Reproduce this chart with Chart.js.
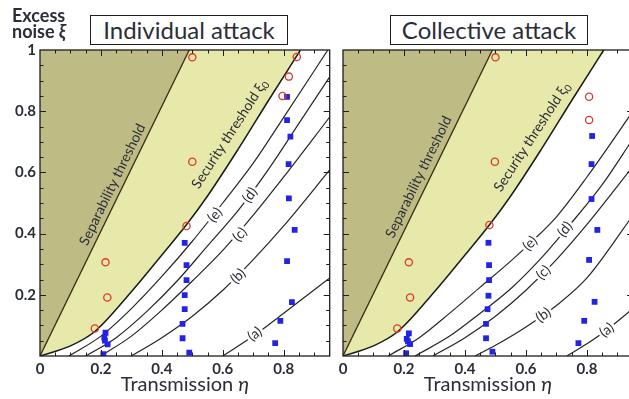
<!DOCTYPE html>
<html>
<head>
<meta charset="utf-8">
<script src="https://cdn.jsdelivr.net/npm/chart.js@4.4.0/dist/chart.umd.min.js"></script>
<style>
html, body { margin: 0; padding: 0; background: #fff; }
body { width: 629px; height: 399px; overflow: hidden; position: relative; font-family: Lato, sans-serif; color: #2b2e38; }
canvas { position: absolute; top: 0; }
#cL { left: 0; }
#cR { left: 333px; }
.box { position: absolute; top: 15px; width: 198px; height: 30px; box-sizing: border-box; border: 1.3px solid #1e1e1e; font-size: 24px; line-height: 27px; text-align: center; background: #fff; }
.ylab { position: absolute; left: 12px; top: 7px; font-size: 18px; font-weight: 700; line-height: 16px; }
.xt { position: absolute; top: 371px; width: 290px; font-size: 20px; text-align: center; }
</style>
</head>
<body>
<canvas id="cL" width="335" height="399"></canvas>
<canvas id="cR" width="307" height="399"></canvas>
<div class="box" style="left:90px">Individual attack</div>
<div class="box" style="left:390px">Collective attack</div>
<div class="ylab">Excess<br>noise <i>ξ</i></div>
<div class="xt" style="left:40px">Transmission <i>η</i></div>
<div class="xt" style="left:343px">Transmission <i>η</i></div>
<script>
// ticks de los ejes
const xTicks = [0, 0.2, 0.4, 0.6, 0.8];
const yTicks = [0.2, 0.4, 0.6, 0.8, 1];

// umbral de separabilidad y umbral de seguridad (iguales en los dos paneles)
const sepEta = [0, 0.49];
const sepXi = [0, 1];
const secEta = [0, 0.1, 0.18, 0.3, 0.4, 0.48, 0.55, 0.65, 0.75, 0.855];
const secXi = [0, 0.033, 0.08, 0.21, 0.33, 0.428, 0.523, 0.675, 0.835, 1];

// curvas (a)-(e), ataque individual
const indAEta = [0.6, 0.7, 0.8, 0.951];
const indAXi = [0, 0.065, 0.14, 0.255];
const indBEta = [0.3, 0.4, 0.5, 0.6, 0.7, 0.8, 0.951];
const indBXi = [0, 0.06, 0.13, 0.215, 0.315, 0.425, 0.608];
const indCEta = [0.2, 0.3, 0.4, 0.5, 0.6, 0.7, 0.8, 0.951];
const indCXi = [0, 0.065, 0.15, 0.245, 0.345, 0.46, 0.585, 0.781];
const indDEta = [0.15, 0.25, 0.35, 0.45, 0.55, 0.65, 0.75, 0.85, 0.951];
const indDXi = [0, 0.06, 0.145, 0.245, 0.36, 0.475, 0.61, 0.76, 0.912];
const indEEta = [0.095, 0.2, 0.3, 0.4, 0.5, 0.6, 0.7, 0.8, 0.945];
const indEXi = [0, 0.065, 0.155, 0.26, 0.375, 0.5, 0.63, 0.78, 1];

// curvas (a)-(e), ataque colectivo
const colAEta = [0.734, 0.8, 0.865, 0.951];
const colAXi = [0, 0.04, 0.085, 0.155];
const colBEta = [0.433, 0.5, 0.6, 0.7, 0.8, 0.951];
const colBXi = [0, 0.035, 0.095, 0.165, 0.255, 0.46];
const colCEta = [0.295, 0.4, 0.5, 0.6, 0.7, 0.8, 0.951];
const colCXi = [0, 0.06, 0.13, 0.215, 0.315, 0.43, 0.62];
const colDEta = [0.236, 0.35, 0.45, 0.55, 0.65, 0.728, 0.85, 0.951];
const colDXi = [0, 0.065, 0.14, 0.22, 0.32, 0.41, 0.56, 0.71];
const colEEta = [0.148, 0.25, 0.35, 0.45, 0.55, 0.613, 0.7, 0.8, 0.951];
const colEXi = [0, 0.06, 0.14, 0.225, 0.31, 0.368, 0.455, 0.585, 0.8];

// puntos medidos: circulos rojos (inseguros) y cuadrados azules (seguros)
const indCircEta = [0.843, 0.817, 0.796, 0.5, 0.5, 0.481, 0.215, 0.221, 0.18];
const indCircXi = [0.977, 0.913, 0.85, 0.976, 0.635, 0.425, 0.306, 0.191, 0.09];
const indSqEta = [0.811, 0.811, 0.822, 0.816, 0.817, 0.836, 0.811, 0.827, 0.789, 0.772,
  0.475, 0.481, 0.481, 0.475, 0.475, 0.468, 0.468, 0.49,
  0.215, 0.211, 0.213, 0.222, 0.208];
const indSqXi = [0.847, 0.771, 0.717, 0.627, 0.515, 0.412, 0.31, 0.176, 0.115, 0.042,
  0.37, 0.297, 0.248, 0.199, 0.153, 0.105, 0.058, 0.011,
  0.076, 0.06, 0.05, 0.038, 0.006];

const colCircEta = [0.5, 0.807, 0.807, 0.498, 0.48, 0.216, 0.22, 0.178];
const colCircXi = [0.976, 0.847, 0.771, 0.635, 0.428, 0.306, 0.191, 0.09];
const colSqEta = [0.817, 0.815, 0.815, 0.834, 0.807, 0.825, 0.791, 0.772,
  0.477, 0.479, 0.479, 0.477, 0.474, 0.469, 0.469, 0.49,
  0.216, 0.209, 0.213, 0.22, 0.207];
const colSqXi = [0.719, 0.627, 0.513, 0.412, 0.314, 0.177, 0.115, 0.042,
  0.37, 0.297, 0.248, 0.197, 0.153, 0.105, 0.058, 0.014,
  0.074, 0.056, 0.048, 0.039, 0.009];

// colores
const darkFill = '#bfbb84';
const lightFill = '#e6e9a9';
const textColor = '#2b2e38';

function pts(xs, ys) {
    return xs.map((x, i) => ({ x: x, y: ys[i] }));
}

function curve(xs, ys, color, width) {
    return {
        data: pts(xs, ys),
        borderColor: color,
        borderWidth: width,
        pointRadius: 0,
        fill: false,
        cubicInterpolationMode: 'monotone'
    };
}

// etiquetas sobre las curvas, texto, eta, xi, angulo
const indTags = [['(e)', 0.574, 0.461, -50], ['(d)', 0.689, 0.526, -53], ['(c)', 0.656, 0.397, -49],
    ['(b)', 0.65, 0.261, -45], ['(a)', 0.705, 0.072, -37]];
const colTags = [['(e)', 0.613, 0.368, -45], ['(d)', 0.728, 0.414, -50], ['(c)', 0.657, 0.273, -45],
    ['(b)', 0.657, 0.134, -36], ['(a)', 0.865, 0.085, -38]];
const indNotes = [['Separability threshold', 0.238, 0.56, -64, ''], ['Security threshold ξ', 0.622, 0.725, -57, '0']];
const colNotes = [['Separability threshold', 0.248, 0.585, -64, ''], ['Security threshold ξ', 0.619, 0.715, -57, '0']];

var textosPlugin = {
    id: 'textos',
    afterDatasetsDraw(chart, args, opts) {
        const ctx = chart.ctx;
        const xs = chart.scales.x, ys = chart.scales.y;
        const a = chart.chartArea;
        ctx.save();
        ctx.beginPath();
        ctx.rect(a.left, a.top, a.right - a.left, a.bottom - a.top);
        ctx.clip();
        ctx.textAlign = 'center';
        ctx.textBaseline = 'middle';
        opts.tags.forEach(t => {
            ctx.save();
            ctx.translate(xs.getPixelForValue(t[1]), ys.getPixelForValue(t[2]));
            ctx.rotate(t[3] * Math.PI / 180);
            ctx.font = '14px Lato';
            const w = ctx.measureText(t[0]).width;
            ctx.fillStyle = '#fff';
            ctx.fillRect(-w / 2 - 2, -7, w + 4, 14);
            ctx.fillStyle = textColor;
            ctx.fillText(t[0], 0, 0);
            ctx.restore();
        });
        opts.notes.forEach(t => {
            ctx.save();
            ctx.translate(xs.getPixelForValue(t[1]), ys.getPixelForValue(t[2]));
            ctx.rotate(t[3] * Math.PI / 180);
            ctx.font = '14px Lato';
            const w = ctx.measureText(t[0]).width;
            ctx.font = '10px Lato';
            const ws = ctx.measureText(t[4]).width;
            ctx.textAlign = 'left';
            ctx.fillStyle = textColor;
            ctx.font = '14px Lato';
            ctx.fillText(t[0], -(w + ws) / 2, 0);
            if (t[4]) {
                ctx.font = '10px Lato';
                ctx.fillText(t[4], -(w + ws) / 2 + w + 0.5, 4);
            }
            ctx.restore();
        });
        ctx.restore();
    },
    afterDraw(chart) {
        // marco y ticks hacia adentro en los cuatro lados
        const ctx = chart.ctx;
        const a = chart.chartArea;
        const xs = chart.scales.x, ys = chart.scales.y;
        ctx.save();
        ctx.strokeStyle = '#1e1e1e';
        ctx.lineWidth = 1.3;
        ctx.strokeRect(a.left, a.top, a.right - a.left, a.bottom - a.top);
        ctx.lineWidth = 1;
        ctx.beginPath();
        for (let i = 1; i < 20; i++) {
            const v = i * 0.05;
            const len = i % 4 == 0 ? 6 : 3.5;
            if (v < xs.max) {
                const px = Math.round(xs.getPixelForValue(v)) + 0.5;
                ctx.moveTo(px, a.bottom); ctx.lineTo(px, a.bottom - len);
                ctx.moveTo(px, a.top); ctx.lineTo(px, a.top + len);
            }
            const py = Math.round(ys.getPixelForValue(v)) + 0.5;
            ctx.moveTo(a.left, py); ctx.lineTo(a.left + len, py);
            ctx.moveTo(a.right, py); ctx.lineTo(a.right - len, py);
        }
        ctx.stroke();
        ctx.restore();
    }
};

function crearPanel(id, c, showY, yWidth, padRight) {
    const datasets = [
        { data: pts(c.circEta, c.circXi), showLine: false, pointStyle: 'circle', pointRadius: 3.6,
          pointBorderWidth: 1.3, pointBorderColor: '#dc3a2e', pointBackgroundColor: 'rgba(0,0,0,0)' },
        { data: pts(c.sqEta, c.sqXi), showLine: false, pointStyle: 'rect', pointRadius: 4.1,
          pointBorderWidth: 0, pointBackgroundColor: '#2323e6' },
        Object.assign(curve(sepEta, sepXi, '#3a2c16', 1.3), { fill: 'end', backgroundColor: darkFill }),
        Object.assign(curve(secEta, secXi, '#1a1a1a', 1.5), { fill: 'end', backgroundColor: lightFill }),
        curve(c.e[0], c.e[1], '#262626', 1.2),
        curve(c.d[0], c.d[1], '#262626', 1.2),
        curve(c.c[0], c.c[1], '#262626', 1.2),
        curve(c.b[0], c.b[1], '#262626', 1.2),
        curve(c.a[0], c.a[1], '#262626', 1.2)
    ];
    return new Chart(document.getElementById(id), {
        type: 'line',
        data: { datasets: datasets },
        options: {
            animation: false,
            responsive: false,
            events: [],
            layout: { padding: { top: 50, right: padRight, left: 0, bottom: 0 } },
            plugins: {
                legend: { display: false },
                tooltip: { enabled: false },
                textos: { tags: c.tags, notes: c.notes }
            },
            scales: {
                x: {
                    type: 'linear', min: 0, max: 0.951,
                    afterBuildTicks: s => { s.ticks = xTicks.map(v => ({ value: v })); },
                    afterFit: s => { s.height = 43; },
                    grid: { display: false, drawTicks: false },
                    border: { display: false },
                    ticks: { padding: 4, color: textColor, font: { family: 'Lato', size: 15, weight: 'bold' },
                        callback: v => String(v) }
                },
                y: {
                    type: 'linear', min: 0, max: 1,
                    afterBuildTicks: s => { s.ticks = yTicks.map(v => ({ value: v })); },
                    afterFit: s => { s.width = yWidth; },
                    grid: { display: false, drawTicks: false },
                    border: { display: false },
                    ticks: { display: showY, padding: 4, color: textColor, font: { family: 'Lato', size: 15, weight: 'bold' },
                        callback: v => String(v) }
                }
            }
        },
        plugins: [textosPlugin]
    });
}

crearPanel('cL', {
    a: [indAEta, indAXi], b: [indBEta, indBXi], c: [indCEta, indCXi], d: [indDEta, indDXi], e: [indEEta, indEXi],
    circEta: indCircEta, circXi: indCircXi, sqEta: indSqEta, sqXi: indSqXi,
    tags: indTags, notes: indNotes
}, true, 40, 5);

crearPanel('cR', {
    a: [colAEta, colAXi], b: [colBEta, colBXi], c: [colCEta, colCXi], d: [colDEta, colDXi], e: [colEEta, colEXi],
    circEta: colCircEta, circXi: colCircXi, sqEta: colSqEta, sqXi: colSqXi,
    tags: colTags, notes: colNotes
}, false, 10, 7);
</script>
</body>
</html>
